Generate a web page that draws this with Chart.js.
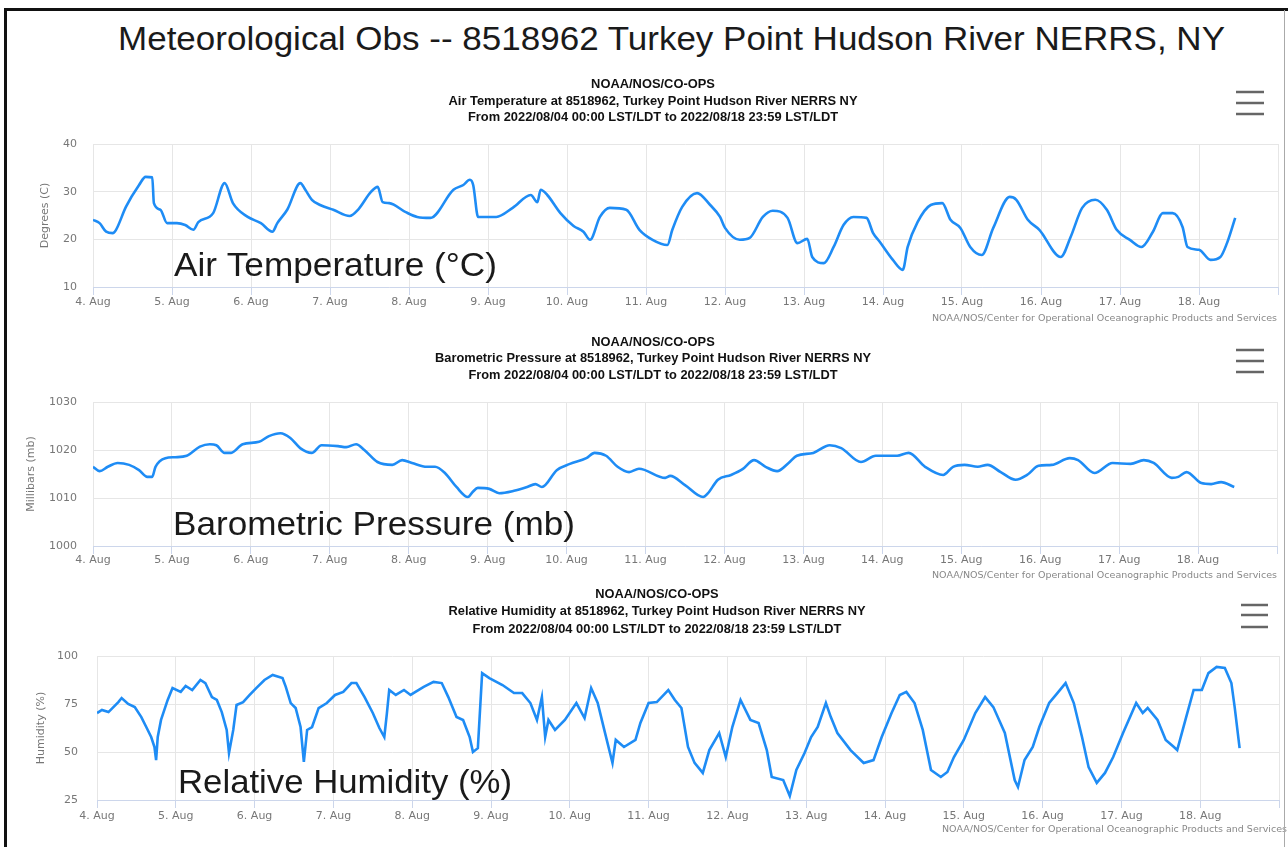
<!DOCTYPE html>
<html>
<head>
<meta charset="utf-8">
<script src="https://cdn.jsdelivr.net/npm/chart.js@4.4.1/dist/chart.umd.min.js"></script>
<style>
  html, body { margin: 0; padding: 0; background: #fff; }
  #page { position: relative; width: 1288px; height: 847px; overflow: hidden; background: #fff; }
  .frame { position: absolute; z-index: 5; }
  #frameLeft { left: 4px; top: 8px; width: 3px; height: 839px; background: #111; }
  #frameTop { left: 4px; top: 8px; width: 1284px; height: 3px; background: #111; }
  #frameRight { left: 1284px; top: 10px; width: 1px; height: 837px; background: #aaa; }
  #mainTitle { position: absolute; left: 118px; top: 21px; line-height: 34px; white-space: nowrap;
    font-family: "Liberation Sans", Arial, sans-serif; font-size: 34px; color: #1a1a1a; transform-origin: 0 0; }
  .box { position: absolute; left: 0; width: 1288px; }
</style>
</head>
<body>
<div id="page">
  <div id="mainTitle">Meteorological Obs -- 8518962 Turkey Point Hudson River NERRS, NY</div>
  <div class="box" style="top:70px;height:260px"><canvas id="tempChart" width="1288" height="260"></canvas></div>
  <div class="box" style="top:330px;height:255px"><canvas id="pressChart" width="1288" height="255"></canvas></div>
  <div class="box" style="top:585px;height:262px"><canvas id="humChart" width="1288" height="262"></canvas></div>
  <div class="frame" id="frameLeft"></div>
  <div class="frame" id="frameTop"></div>
  <div class="frame" id="frameRight"></div>
</div>
<script>
// hours since 2022-08-04 00:00 and the readings
const tempHours = [
  0, 2, 4, 6, 7, 10, 14, 16, 18, 18.5,
  20.5, 22.5, 25.5, 28, 30.5, 32, 36.5, 40, 42.5, 47,
  51, 54.5, 56, 59, 63, 64.5, 66.5, 69, 73, 78,
  80.5, 84.5, 86.5, 88, 90, 95, 98.5, 102.5, 109.5, 112.5,
  114.5, 115.5, 117, 122.5, 127.5, 133, 135, 136, 138, 142,
  146, 149, 151, 154, 157, 162, 166, 170, 174.5, 176,
  179, 183.5, 187.5, 190.5, 192, 196.5, 199.5, 203.5, 206.5, 211,
  214, 217, 218.5, 222, 225, 228, 231, 235, 237, 239,
  243, 246, 247.5, 250.5, 254.5, 258, 260.5, 263.5, 266.5, 270,
  273.5, 278.5, 280.5, 284, 287.5, 294, 297, 300.5, 304.5, 308,
  311, 315, 318.5, 322, 325, 328, 331, 332.5, 336, 339.5,
  342.5, 344.5, 347
];
const tempValues = [
  24.1, 23.4, 21.6, 21.3, 22.0, 26.8, 31.4, 33.1, 33.0, 27.6,
  26.2, 23.4, 23.4, 23.0, 22.0, 23.6, 25.5, 31.8, 27.6, 24.7,
  23.4, 21.6, 23.4, 26.2, 31.8, 30.4, 28.3, 27.2, 26.2, 24.9,
  26.2, 30.0, 31.0, 27.8, 27.6, 25.7, 24.7, 24.5, 30.4, 31.4,
  32.5, 31.4, 24.7, 24.7, 26.6, 29.3, 27.8, 30.4, 29.3, 25.5,
  22.8, 21.6, 19.9, 24.7, 26.6, 26.2, 22.0, 19.9, 18.8, 22.0,
  26.8, 29.7, 27.2, 24.7, 22.4, 19.9, 20.3, 24.7, 26.0, 24.5,
  19.2, 20.1, 16.3, 15.0, 18.4, 23.0, 24.7, 24.5, 21.3, 19.5,
  15.7, 13.6, 18.4, 23.6, 27.2, 27.6, 24.1, 22.4, 18.4, 16.7,
  22.4, 28.9, 28.3, 24.1, 22.0, 16.3, 20.5, 26.6, 28.3, 26.2,
  22.0, 19.9, 18.4, 21.6, 25.5, 25.5, 22.6, 18.4, 17.8, 15.7,
  16.3, 19.2, 24.5
];

const pressHours = [
  0, 2, 4.5, 7.5, 11, 14, 16.5, 18, 19, 22,
  25, 28.5, 32.5, 35.5, 37.5, 40, 42, 45.5, 50.5, 53.5,
  57, 60, 63, 66.5, 69.5, 74.5, 77, 80, 82.5, 86.5,
  91, 94, 97, 101.5, 104, 107, 110.5, 114, 115.5, 117,
  120.5, 123.5, 128, 132, 134.5, 136.5, 141, 145, 150, 152.5,
  156, 159.5, 163, 166, 174, 175.5, 180, 185.5, 187, 190,
  194, 197.5, 201, 204.5, 208, 211.5, 214, 219, 224, 227.5,
  233.5, 238, 244.5, 248, 253, 258.5, 261.5, 265, 269, 272,
  276, 280.5, 284, 287.5, 291.5, 297, 299.5, 304.5, 310, 315.5,
  319.5, 322.5, 328, 330, 332.5, 337, 340, 343, 347
];
const pressValues = [
  1016.5, 1015.6, 1016.5, 1017.3, 1016.9, 1015.8, 1014.4, 1014.4, 1016.5, 1018.3,
  1018.5, 1018.8, 1020.7, 1021.2, 1021.0, 1019.4, 1019.4, 1021.2, 1021.7, 1022.9,
  1023.5, 1022.5, 1020.4, 1019.4, 1021.0, 1020.8, 1020.6, 1021.2, 1020.0, 1017.5,
  1016.9, 1017.9, 1017.3, 1016.5, 1016.5, 1015.2, 1012.3, 1010.2, 1011.3, 1012.1,
  1011.9, 1011.0, 1011.5, 1012.3, 1012.9, 1012.3, 1015.8, 1017.1, 1018.3, 1019.4,
  1018.8, 1016.5, 1015.4, 1016.1, 1014.2, 1014.6, 1012.7, 1010.2, 1011.0, 1013.8,
  1014.8, 1016.0, 1017.9, 1016.5, 1015.6, 1017.3, 1018.8, 1019.4, 1021.0, 1020.4,
  1017.5, 1018.8, 1018.8, 1019.4, 1016.5, 1014.8, 1016.5, 1016.9, 1016.5, 1016.9,
  1015.4, 1013.8, 1014.8, 1016.7, 1016.9, 1018.3, 1017.9, 1015.2, 1017.3, 1017.1,
  1017.9, 1017.3, 1014.2, 1014.4, 1015.4, 1013.1, 1012.9, 1013.3, 1012.3
];

const humHours = [
  0, 1.5, 3.5, 6.5, 7.5, 9.5, 11.5, 13.5, 15, 16.5,
  17.5, 18, 18.5, 19.5, 21.5, 23, 25.5, 27, 29, 31.5,
  33, 35, 36.5, 38, 39.5, 40.2, 41.5, 42.5, 44.5, 46.5,
  48.5, 51, 53.5, 56.5, 57.5, 59, 60.5, 62, 63, 64,
  65.5, 67.5, 70, 72.5, 75, 77.5, 79, 81.5, 84, 86,
  87.5, 88.3, 89, 91, 93.5, 95.5, 97, 99.5, 102.5, 105,
  107, 109.5, 111.5, 113.5, 114.5, 116, 117.3, 119.5, 123.5, 127,
  129.5, 132, 134, 135.5, 136.5, 137.5, 139.5, 142.5, 146, 148.5,
  150.5, 152.5, 154.5, 157, 158, 160.5, 164, 165.5, 168, 170.5,
  174, 176, 178, 180, 182, 184.5, 186.5, 189.5, 191.5, 193.5,
  196, 199, 201.5, 204, 205.5, 209, 211, 213, 215.5, 217.5,
  219.5, 222, 223.5, 225.5, 229.5, 233.5, 236.5, 239, 242, 244.5,
  246.5, 249, 251.5, 254, 257, 259, 261, 264, 267.5, 270.5,
  273, 276.5, 279.5, 280.5, 282.5, 285, 287, 290, 292.5, 295,
  297.5, 300, 302, 304.5, 307, 309.5, 312.5, 316.5, 318.5, 320,
  323, 325.5, 328, 329, 331.5, 334, 336.5, 338.5, 341, 343.5,
  345.5, 346.5, 348
];
const humValues = [
  70.3, 71.9, 70.8, 76.0, 78.1, 75.0, 73.4, 68.2, 63.0, 57.8,
  52.6, 45.8, 57.8, 66.7, 77.0, 83.3, 81.3, 84.4, 82.3, 87.5,
  85.9, 78.6, 77.1, 70.8, 61.5, 49.5, 61.5, 74.5, 76.0, 79.7,
  83.3, 87.5, 90.1, 88.5, 83.9, 75.5, 72.9, 63.0, 44.8, 61.5,
  63.0, 72.9, 75.5, 79.7, 81.3, 85.9, 85.9, 78.6, 70.3, 62.5,
  57.8, 70.3, 82.3, 79.7, 82.3, 79.7, 81.3, 83.9, 86.5, 85.9,
  78.6, 68.2, 66.7, 57.8, 50.0, 52.0, 91.1, 88.5, 84.9, 80.7,
  80.7, 75.5, 66.7, 78.6, 57.8, 66.7, 61.5, 66.7, 75.5, 67.7,
  83.3, 75.5, 61.5, 44.3, 56.3, 52.6, 56.3, 65.1, 75.5, 76.0,
  82.3, 77.1, 72.9, 52.6, 44.3, 39.1, 51.0, 59.9, 47.4, 63.0,
  77.1, 66.7, 65.1, 51.0, 37.0, 35.4, 27.1, 40.6, 49.5, 57.8,
  63.0, 75.5, 68.2, 59.9, 51.0, 44.3, 45.8, 57.8, 70.3, 79.7,
  81.3, 75.5, 61.5, 40.6, 37.0, 39.6, 47.4, 56.3, 70.3, 78.6,
  73.4, 59.9, 35.4, 31.8, 45.8, 52.6, 63.0, 75.5, 80.7, 85.9,
  75.5, 57.8, 42.2, 33.9, 39.1, 47.4, 59.9, 75.5, 70.3, 72.9,
  66.7, 56.3, 52.6, 51.0, 66.7, 82.3, 82.3, 91.1, 94.3, 93.8,
  85.9, 73.4, 52.0
];

const dayTicks = [4, 5, 6, 7, 8, 9, 10, 11, 12, 13, 14, 15, 16, 17, 18];
const creditText = 'NOAA/NOS/Center for Operational Oceanographic Products and Services';
const headerTop = 'NOAA/NOS/CO-OPS';
const headerRange = 'From 2022/08/04 00:00 LST/LDT to 2022/08/18 23:59 LST/LDT';

const decorPlugin = {
    id: 'decor',
    afterDraw(chart, args, o) {
        const ctx = chart.ctx;
        ctx.save();

        // three header lines, stretched so the station line has the source width
        ctx.fillStyle = '#111';
        ctx.font = 'bold 12px "Liberation Sans", Arial, sans-serif';
        ctx.textAlign = 'center';
        ctx.textBaseline = 'middle';
        const hs = o.headerW / ctx.measureText(o.header[1]).width;
        o.header.forEach((line, i) => {
            ctx.save();
            ctx.translate(o.headerX, o.headerY[i]);
            ctx.scale(hs, 1);
            ctx.fillText(line, 0, 0);
            ctx.restore();
        });

        ctx.strokeStyle = '#666';
        ctx.lineWidth = 2.5;
        o.menuY.forEach(y => {
            ctx.beginPath();
            ctx.moveTo(o.menuX[0], y);
            ctx.lineTo(o.menuX[1], y);
            ctx.stroke();
        });

        ctx.font = '9px "DejaVu Sans", sans-serif';
        ctx.fillStyle = '#888';
        ctx.textAlign = 'left';
        const cw = ctx.measureText(creditText).width;
        ctx.save();
        ctx.translate(o.creditX - 345, o.creditY);
        ctx.scale(345 / cw, 1);
        ctx.fillText(creditText, 0, 0);
        ctx.restore();

        ctx.font = '33px "Liberation Sans", Arial, sans-serif';
        ctx.fillStyle = '#1a1a1a';
        ctx.textBaseline = 'alphabetic';
        const w = ctx.measureText(o.label).width;
        ctx.translate(o.labelX, o.labelY);
        ctx.scale(o.labelW / w, 1);
        ctx.fillText(o.label, 0, 0);
        ctx.restore();
    }
};

function makeChart(id, hours, values, s) {
    const tickFont = {family: '"DejaVu Sans", sans-serif', size: 11};
    return new Chart(document.getElementById(id), {
        type: 'line',
        data: {
            datasets: [{
                data: hours.map((h, i) => ({x: h, y: values[i]})),
                borderColor: '#1e8cf5',
                borderWidth: 2.6,
                pointRadius: 0,
                fill: false,
                cubicInterpolationMode: s.smooth ? 'monotone' : 'default',
                tension: 0
            }]
        },
        options: {
            responsive: false,
            animation: false,
            layout: {padding: {left: 0, right: 1288 - s.right, top: s.top, bottom: 0}},
            plugins: {
                legend: {display: false},
                tooltip: {enabled: false},
                decor: s.decor
            },
            scales: {
                x: {
                    type: 'linear',
                    min: 0,
                    max: 360,
                    afterFit: scale => { scale.height = s.xHeight; },
                    afterBuildTicks: scale => {
                        scale.ticks = dayTicks.map(d => ({value: (d - 4) * 24})).concat([{value: 360}]);
                    },
                    grid: {color: '#e6e6e6', tickColor: '#ccd6eb', tickLength: 8},
                    border: {color: '#ccd6eb'},
                    ticks: {
                        autoSkip: false,
                        maxRotation: 0,
                        padding: s.xPad,
                        color: '#777',
                        font: tickFont,
                        callback: v => v >= 360 ? '' : (4 + v / 24) + '. Aug'
                    }
                },
                y: {
                    min: s.yMin,
                    max: s.yMax,
                    afterFit: scale => { scale.width = s.left; },
                    grid: {color: '#e6e6e6', drawTicks: false},
                    border: {display: false},
                    ticks: {
                        stepSize: s.yStep, padding: s.yPad, color: '#777', font: tickFont,
                        callback: v => String(v)
                    },
                    title: {
                        display: true,
                        text: s.yTitle,
                        color: '#777',
                        font: {family: '"DejaVu Sans", sans-serif', size: 11},
                        padding: {top: s.yTitleX - 6.6, bottom: 0}
                    }
                }
            }
        },
        plugins: [decorPlugin]
    });
}

makeChart('tempChart', tempHours, tempValues, {
    left: 93, right: 1278, top: 74, xHeight: 43, xPad: 1, smooth: true,
    yMin: 10, yMax: 40, yStep: 10, yPad: 16, yTitle: 'Degrees (C)', yTitleX: 45,
    decor: {
        header: [headerTop, 'Air Temperature at 8518962, Turkey Point Hudson River NERRS NY', headerRange],
        headerX: 653, headerY: [15, 32, 48], headerW: 409,
        menuX: [1236, 1264], menuY: [22, 33, 44],
        creditX: 1277, creditY: 249,
        label: 'Air Temperature (°C)', labelX: 174, labelY: 206, labelW: 323
    }
});

makeChart('pressChart', pressHours, pressValues, {
    left: 93, right: 1277, top: 72, xHeight: 39, xPad: 0, smooth: true,
    yMin: 1000, yMax: 1030, yStep: 10, yPad: 16, yTitle: 'Millibars (mb)', yTitleX: 31,
    decor: {
        header: [headerTop, 'Barometric Pressure at 8518962, Turkey Point Hudson River NERRS NY', headerRange],
        headerX: 653, headerY: [13, 29, 46], headerW: 436,
        menuX: [1236, 1264], menuY: [20, 31, 42],
        creditX: 1277, creditY: 246,
        label: 'Barometric Pressure (mb)', labelX: 173, labelY: 205, labelW: 402
    }
});

makeChart('humChart', humHours, humValues, {
    left: 97, right: 1279, top: 71, xHeight: 47, xPad: 1.5, smooth: false,
    yMin: 25, yMax: 100, yStep: 25, yPad: 19, yTitle: 'Humidity (%)', yTitleX: 41,
    decor: {
        header: [headerTop, 'Relative Humidity at 8518962, Turkey Point Hudson River NERRS NY', headerRange],
        headerX: 657, headerY: [10, 27, 45], headerW: 417,
        menuX: [1241, 1268], menuY: [20, 30, 42],
        creditX: 1287, creditY: 245,
        label: 'Relative Humidity (%)', labelX: 178, labelY: 208, labelW: 334
    }
});

// stretch the page title to the width it has in the source picture
const mainTitle = document.getElementById('mainTitle');
const tw = mainTitle.getBoundingClientRect().width;
mainTitle.style.transform = 'scaleX(' + (1107 / tw) + ')';
</script>
</body>
</html>
